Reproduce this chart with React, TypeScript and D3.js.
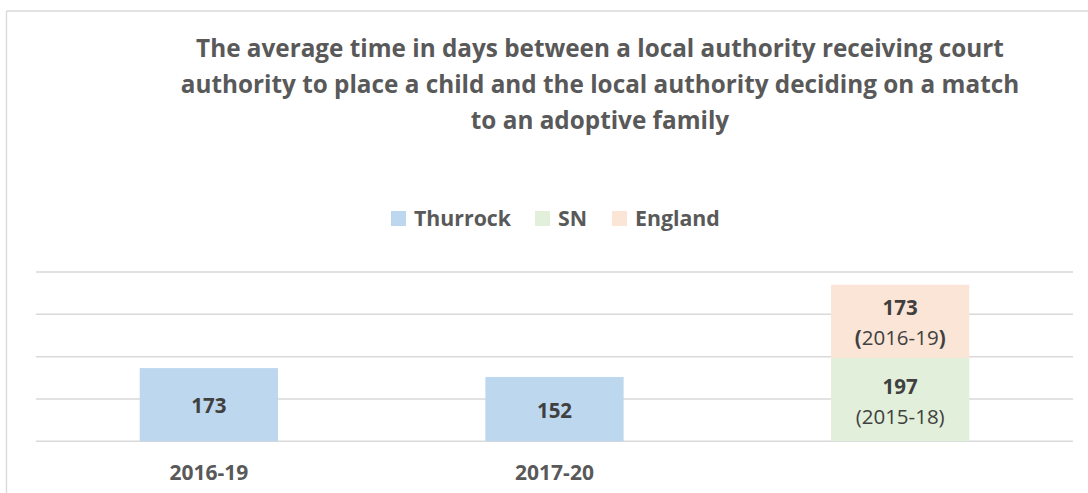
import React from "react";
import * as d3 from "d3";

const titleLines = [
  "The average time in days between a local authority receiving court",
  "authority to place a child and the local authority deciding on a match",
  "to an adoptive family",
];
const categories = ["2016-19", "2017-20", ""];
const seriesNames = ["Thurrock", "SN", "England"];
const thurrock = [173, 152, 0];
const sn = [0, 0, 197];
const england = [0, 0, 173];
const periodLabels: Record<string, string[]> = {
  Thurrock: ["", "", ""],
  SN: ["", "", "(2015-18)"],
  England: ["", "", "(2016-19)"],
};
const yTicks = [0, 100, 200, 300, 400];

const colors: Record<string, string> = {
  Thurrock: "#BDD7EE",
  SN: "#E2EFDA",
  England: "#FBE5D6",
};

const W = 1088;
const H = 493;
const FONT = "'Open Sans', sans-serif";
const TEXT = "#595959";
const LABEL = "#404040";

export default function App() {
  const x = d3
    .scaleBand<string>()
    .domain(categories.map((c, i) => `${i}`))
    .range([36, 1073])
    .paddingInner(0.6)
    .paddingOuter(0.3);
  const y = d3.scaleLinear().domain([0, 400]).range([441.3, 272]);

  const rows = categories.map((c, i) => ({
    key: `${i}`,
    Thurrock: thurrock[i],
    SN: sn[i],
    England: england[i],
  }));
  const stacked = d3.stack<any>().keys(seriesNames)(rows);

  // legend layout
  const legendFont = 21.3;
  const widths = [96, 29, 83];
  const sq = 15;
  const gapText = 8;
  const gapItem = 25;
  const totalLegend =
    widths.reduce((a, b) => a + b, 0) + seriesNames.length * (sq + gapText) + gapItem * (seriesNames.length - 1);
  let lx = (36 + 1073) / 2 - totalLegend / 2;
  const legendItems = seriesNames.map((n, i) => {
    const item = { name: n, x: lx };
    lx += sq + gapText + widths[i] + gapItem;
    return item;
  });

  return (
    <div style={{ position: "fixed", left: 0, top: 0, width: W, height: H, background: "#fff" }}>
      <svg width={W} height={H} style={{ display: "block" }} fontFamily={FONT}>
        <rect x={0} y={0} width={W} height={H} fill="#fff" />
        {/* chart border */}
        <line x1={6.5} y1={11} x2={W + 5} y2={11} stroke="#d9d9d9" strokeWidth={1.3} />
        <line x1={6.5} y1={11} x2={6.5} y2={H + 5} stroke="#d9d9d9" strokeWidth={1.3} />

        {/* title */}
        {titleLines.map((t, i) => (
          <text
            key={i}
            x={600}
            y={57 + i * 36}
            textAnchor="middle"
            fontSize={24.3}
            fontWeight={700}
            fill={TEXT}
          >
            {t}
          </text>
        ))}

        {/* legend */}
        {legendItems.map((it) => (
          <g key={it.name}>
            <rect x={it.x} y={211} width={sq} height={sq} fill={colors[it.name]} />
            <text x={it.x + sq + gapText} y={226} fontSize={legendFont} fontWeight={700} fill={TEXT}>
              {it.name}
            </text>
          </g>
        ))}

        {/* gridlines */}
        {yTicks.map((t) => (
          <line key={t} x1={36} x2={1073} y1={y(t)} y2={y(t)} stroke="#d9d9d9" strokeWidth={1.5} />
        ))}

        {/* bars */}
        {stacked.map((s) =>
          s.map((d, i) => {
            const v = d[1] - d[0];
            if (v <= 0) return null;
            const bx = x(`${i}`)!;
            const bw = x.bandwidth();
            const top = y(d[1]);
            const bot = y(d[0]);
            const mid = (top + bot) / 2;
            const period = periodLabels[s.key][i];
            return (
              <g key={s.key + i}>
                <rect x={bx} y={top} width={bw} height={bot - top} fill={colors[s.key]} />
                {period ? (
                  <>
                    <text x={bx + bw / 2} y={mid - 6} textAnchor="middle" fontSize={20.5} fontWeight={700} fill={LABEL}>
                      {v}
                    </text>
                    <text x={bx + bw / 2} y={mid + 24} textAnchor="middle" fontSize={20.5} fill={LABEL}>
                      {s.key === "England" ? (
                        <>
                          <tspan fontWeight={700}>(</tspan>
                          {period.slice(1, -1)}
                          <tspan fontWeight={700}>)</tspan>
                        </>
                      ) : (
                        period
                      )}
                    </text>
                  </>
                ) : (
                  <text x={bx + bw / 2} y={mid + 8.5} textAnchor="middle" fontSize={20.5} fontWeight={700} fill={LABEL}>
                    {v}
                  </text>
                )}
              </g>
            );
          })
        )}

        {/* category labels */}
        {categories.map((c, i) => (
          <text
            key={i}
            x={x(`${i}`)! + x.bandwidth() / 2}
            y={480}
            textAnchor="middle"
            fontSize={21}
            fontWeight={700}
            fill={TEXT}
          >
            {c}
          </text>
        ))}
      </svg>
    </div>
  );
}
